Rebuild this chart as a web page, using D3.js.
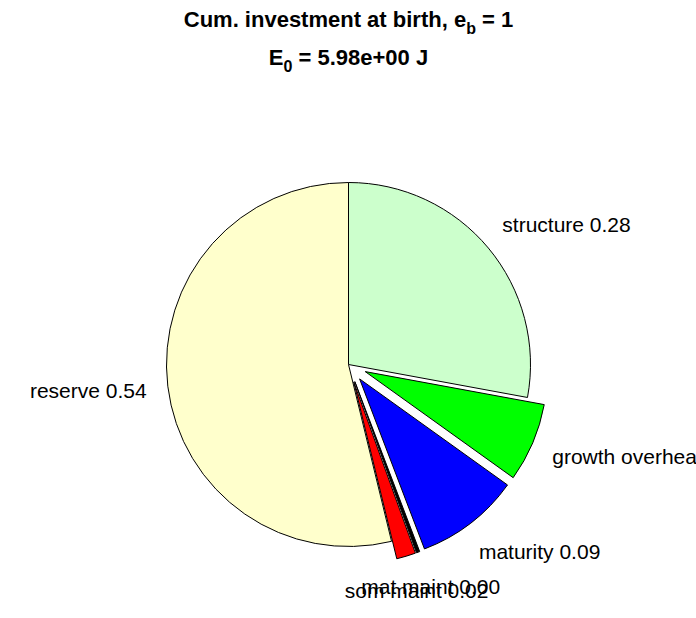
<!DOCTYPE html>
<html>
<head>
<meta charset="utf-8">
<script src="https://cdn.jsdelivr.net/npm/d3@7"></script>
<style>
  html, body { margin: 0; padding: 0; background: #fff; }
  svg { display: block; }
  text { font-family: Arial, "Liberation Sans", sans-serif; }
</style>
</head>
<body>
<script>
// ---- data (clockwise from 12 o'clock) ----
const categories = ["structure", "growth overhead", "maturity", "mat maint", "som maint", "reserve"];
const fractions  = [0.279, 0.070, 0.093, 0.003, 0.017, 0.538];
const exploded   = [false, true, true, true, true, false];
const colors     = ["#ccffcc", "#00ff00", "#0000ff", "#000000", "#ff0000", "#ffffcc"];
const titleLine1 = ["Cum. investment at birth, e", "b", " = 1"];
const titleLine2 = ["E", "0", " = 5.98e+00 J"];

const W = 696, H = 618;
const cx = 348.5, cy = 364.5, R = 182;

const svg = d3.select("body").append("svg").attr("width", W).attr("height", H);

// title
function subTitle(y, parts) {
  const t = svg.append("text").attr("x", cx).attr("y", y)
    .attr("text-anchor", "middle").attr("font-weight", "bold")
    .attr("font-size", 22).attr("fill", "#000");
  t.append("tspan").text(parts[0]);
  t.append("tspan").attr("font-size", 16).attr("dy", 7).text(parts[1]);
  t.append("tspan").attr("dy", -7).text(parts[2]);
}
subTitle(27, titleLine1);
subTitle(65, titleLine2);

const pie = d3.pie().sort(null).value(d => d)(fractions);
const arc = d3.arc().innerRadius(0).outerRadius(R);
const fmt = d3.format(".2f");

const g = svg.append("g").attr("transform", `translate(${cx},${cy})`);

pie.forEach((p, i) => {
  const mid = (p.startAngle + p.endAngle) / 2;
  const dx = Math.sin(mid), dy = -Math.cos(mid);
  const e = exploded[i] ? 0.1 * R : 0;
  g.append("path")
    .attr("d", arc(p))
    .attr("transform", `translate(${e * dx},${e * dy})`)
    .attr("fill", colors[i])
    .attr("stroke", "#000")
    .attr("stroke-width", 1)
    .attr("stroke-linejoin", "miter");
});

pie.forEach((p, i) => {
  const mid = (p.startAngle + p.endAngle) / 2;
  const dx = Math.sin(mid), dy = -Math.cos(mid);
  const e = exploded[i] ? 0.1 * R : 0;
  let x = (e + 1.2 * R) * dx, y = (e + 1.2 * R) * dy;
  let anchor = "middle";
  if (dx > 0.5) { anchor = "start"; x -= 14; }
  else if (dx < -0.5) { anchor = "end"; x += 15; }
  g.append("text")
    .attr("x", x).attr("y", y)
    .attr("dy", "0.35em")
    .attr("text-anchor", anchor)
    .attr("font-size", 21)
    .attr("fill", "#000")
    .text(categories[i] + " " + fmt(fractions[i]));
});
</script>
</body>
</html>
